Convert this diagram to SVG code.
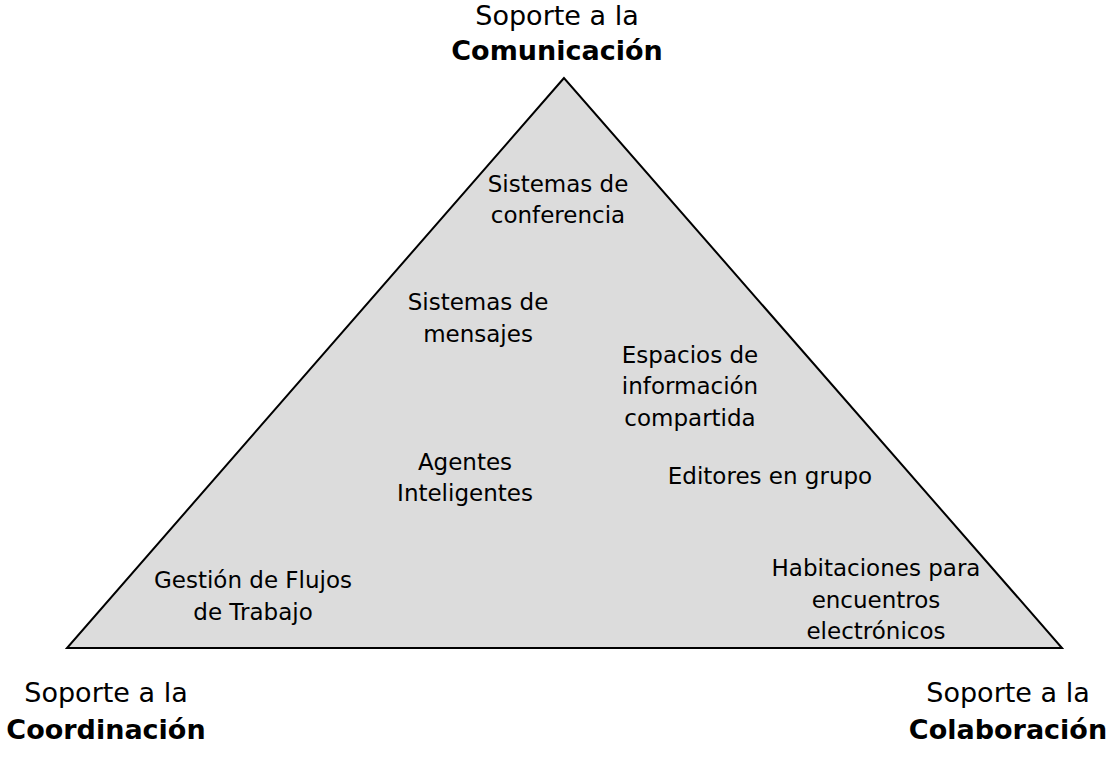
<svg xmlns="http://www.w3.org/2000/svg" width="1116" height="757" viewBox="0 0 1116 757">
<style>
.t{font-family:"DejaVu Sans","Liberation Sans",sans-serif;font-size:23px;fill:#000;text-anchor:middle}
.h{font-family:"DejaVu Sans","Liberation Sans",sans-serif;font-size:27px;fill:#000;text-anchor:middle}
.b{font-weight:bold}
</style>
<rect width="1116" height="757" fill="#fff"/>
<g id="triangle">
<polygon points="564,78 67,648 1062,648" fill="#dcdcdc" stroke="#000" stroke-width="2" stroke-linejoin="miter"/>
</g>
<g id="comunicacion"><text class="h" x="557" y="25">Soporte a la</text><text class="h b" x="557" y="60">Comunicación</text></g>
<g id="coordinacion"><text class="h" x="106" y="702">Soporte a la</text><text class="h b" x="106" y="739">Coordinación</text></g>
<g id="colaboracion"><text class="h" x="1008" y="702">Soporte a la</text><text class="h b" x="1008" y="739">Colaboración</text></g>
<g id="conferencia"><text class="t" x="558" y="192">Sistemas de</text><text class="t" x="558" y="223">conferencia</text></g>
<g id="mensajes"><text class="t" x="478" y="310">Sistemas de</text><text class="t" x="478" y="342">mensajes</text></g>
<g id="espacios"><text class="t" x="690" y="363">Espacios de</text><text class="t" x="690" y="394">información</text><text class="t" x="690" y="426">compartida</text></g>
<g id="agentes"><text class="t" x="465" y="470">Agentes</text><text class="t" x="465" y="501">Inteligentes</text></g>
<g id="editores"><text class="t" x="770" y="484">Editores en grupo</text></g>
<g id="gestion"><text class="t" x="253" y="588">Gestión de Flujos</text><text class="t" x="253" y="620">de Trabajo</text></g>
<g id="habitaciones"><text class="t" x="876" y="576">Habitaciones para</text><text class="t" x="876" y="608">encuentros</text><text class="t" x="876" y="639">electrónicos</text></g>
<g id="connectors"></g>
</svg>
